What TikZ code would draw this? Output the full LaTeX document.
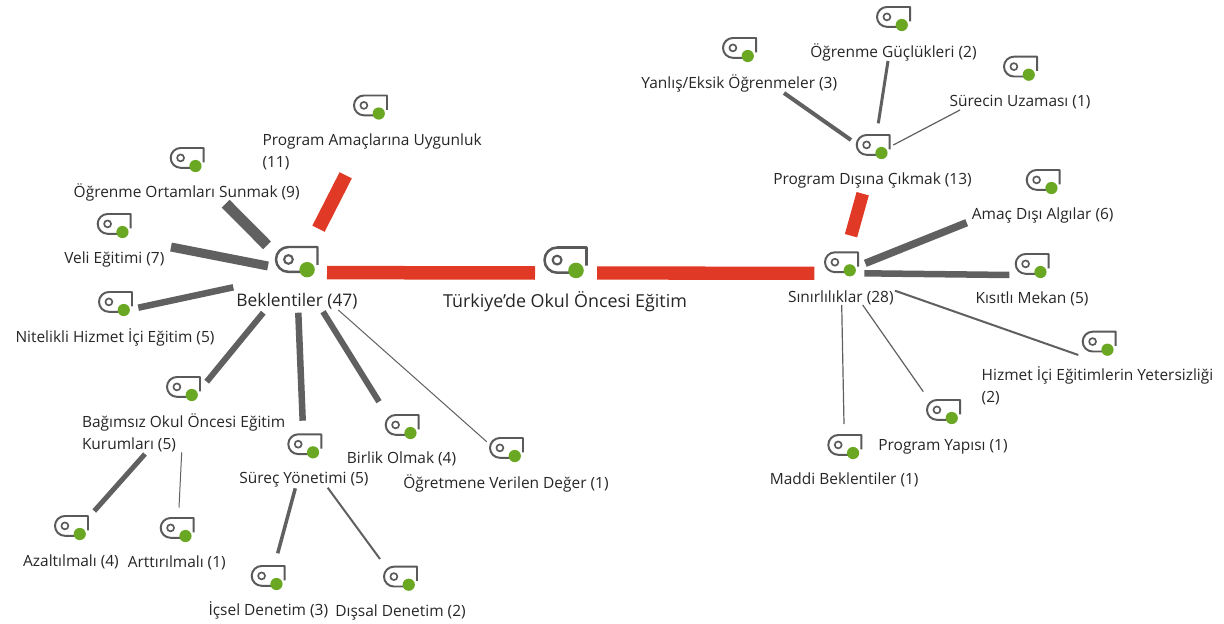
\documentclass[tikz,border=0pt]{standalone}
\usepackage{fontspec}
\setmainfont{Open Sans}
\definecolor{redline}{HTML}{E03A26}
\definecolor{grayline}{HTML}{606060}
\definecolor{icongray}{HTML}{5A5A5A}
\definecolor{dotgreen}{HTML}{6AA823}
\definecolor{txt}{HTML}{262626}
\tikzset{
  lab/.style={inner sep=0pt,outer sep=0pt,anchor=base,yshift=-0.9pt,text=txt,font=\fontsize{11.6}{16.5}\selectfont},
  lableft/.style={lab,anchor=base west,align=left},
  rootlab/.style={lab,font=\fontsize{13.4}{16.5}\selectfont},
  beklab/.style={lab,font=\fontsize{13}{16.5}\selectfont},
  iconbox/.style={inner sep=0pt,outer sep=0pt,minimum width=#1*0.75pt,minimum height=#1*0.45pt},
  icondot/.style={circle,fill=dotgreen,draw=none,inner sep=0pt,minimum size=#1*0.75pt},
  redc/.style={draw=redline,line width=#1*0.75pt},
  grayc/.style={draw=grayline,line width=#1*0.75pt},
}
% \icon{name}{left x}{top y}{width}
\newcommand{\icon}[4]{%
  \pgfmathsetmacro{\iw}{#4}\pgfmathsetmacro{\ih}{#4*0.6}%
  \pgfmathsetmacro{\icx}{#2+\iw/2}\pgfmathsetmacro{\icy}{#3+\ih/2}%
  \expandafter\xdef\csname px@#1\endcsname{\icx}%
  \expandafter\xdef\csname py@#1\endcsname{\icy}%
  \node[iconbox=#4] (#1) at (\icx,\icy) {};
  \draw[icongray,line width={#4*0.06*0.75pt},line join=round]
    (#2+0.72*\iw,#3+\ih) -- (#2+0.30*\iw,#3+\ih)
    arc[start angle=90,end angle=270,x radius=0.30*\iw,y radius=0.5*\ih]
    -- (#2+\iw,#3) -- (#2+\iw,#3+0.72*\ih);
  \draw[icongray,line width={#4*0.05*0.75pt}] (#2+0.30*\iw,#3+0.5*\ih) circle[radius=0.105*\iw];
  \node[icondot=#4*0.37] (#1-dot) at (#2+0.75*\iw,#3+0.91*\ih) {};
}
% \conn{style}{a}{b}{x1}{y1}{x2}{y2}
\newcommand{\conn}[7]{%
  \draw[#1] ([shift={({#4-\csname px@#2\endcsname},{#5-\csname py@#2\endcsname})}]#2.center)
    -- ([shift={({#6-\csname px@#3\endcsname},{#7-\csname py@#3\endcsname})}]#3.center);
}
\begin{document}
\begin{tikzpicture}[x=0.75pt,y=-0.75pt]
\useasboundingbox (0,0) rectangle (1224,624);
\fill[white] (0,0) rectangle (1224,624);
\icon{root}{544.5}{247.5}{42}
\icon{bek}{276}{247}{41.5}
\icon{sin}{825}{252.3}{33}
\icon{pam}{354}{95.5}{33}
\icon{oom}{170.7}{148}{33}
\icon{veli}{97.7}{214}{33}
\icon{nit}{99}{292}{33}
\icon{bag}{167}{377}{33}
\icon{sur}{288.3}{434.3}{33}
\icon{bir}{385.7}{415}{33}
\icon{ovd}{490}{438}{33}
\icon{aza}{55}{516}{33}
\icon{art}{160.7}{518}{33}
\icon{ics}{251.7}{566}{33}
\icon{dis}{384}{566.7}{33}
\icon{yan}{723}{38}{33}
\icon{ogg}{877}{7}{33}
\icon{suz}{1004}{56.7}{33}
\icon{pdc}{856.7}{135}{33}
\icon{amc}{1026.7}{170}{33}
\icon{kis}{1015.7}{254}{33}
\icon{hiz}{1082.7}{331.7}{33}
\icon{pya}{927}{400}{33}
\icon{mad}{828.3}{435}{33}

\conn{redc=13.5}{bek}{root}{327}{272.6}{535}{273}
\conn{redc=13.3}{root}{sin}{597}{273}{814.3}{273.3}
\conn{redc=13.7}{bek}{pam}{318.5}{228.7}{345.7}{175.3}
\conn{grayc=11}{bek}{oom}{267}{245.3}{225.7}{203.7}
\conn{grayc=9}{bek}{veli}{268}{266}{171}{247}
\conn{grayc=6.5}{bek}{nit}{233.3}{287.3}{138.3}{307.7}
\conn{grayc=6}{bek}{bag}{263.3}{312.7}{206.7}{381.7}
\conn{grayc=6.5}{bek}{sur}{298.3}{312.7}{302.7}{420.7}
\conn{grayc=6}{bek}{bir}{323}{311.7}{379}{401.7}
\conn{grayc=1}{bek}{ovd}{338.3}{310}{486.7}{441.7}
\conn{grayc=5}{bag}{aza}{145}{454}{94.3}{511}
\conn{grayc=1}{bag}{art}{181.7}{452.3}{179}{507.7}
\conn{grayc=3.5}{sur}{ics}{295.3}{488.3}{277.7}{553.3}
\conn{grayc=2}{sur}{dis}{327.7}{487.7}{380}{559}
\conn{redc=12.7}{sin}{pdc}{851}{235.7}{862.7}{193.7}
\conn{grayc=4}{pdc}{yan}{851}{140}{784}{93}
\conn{grayc=3}{pdc}{ogg}{878.3}{123.3}{888}{61}
\conn{grayc=1.2}{pdc}{suz}{893.3}{145}{960}{110}
\conn{grayc=7.5}{sin}{amc}{865.3}{263.3}{966.7}{222.7}
\conn{grayc=6.5}{sin}{kis}{864.3}{273.3}{1009.3}{275}
\conn{grayc=2}{sin}{hiz}{895}{290.7}{1078.3}{355}
\conn{grayc=1.2}{sin}{pya}{862.7}{305}{923.3}{391.7}
\conn{grayc=1.2}{sin}{mad}{841.7}{305}{844}{424}

\node[rootlab] (lroot) at (565,306) {Türkiye'de Okul Öncesi Eğitim};
\node[beklab] (lbek) at (297,305) {Beklentiler (47)};
\node[lab] (lsin) at (840.8,301) {Sınırlılıklar (28)};
\node[lableft] (lpam) at (262.5,166) {Program Amaçlarına Uygunluk\\(11)};
\node[lab] (loom) at (186.7,196.7) {Öğrenme Ortamları Sunmak (9)};
\node[lab] (lveli) at (114.3,262.7) {Veli Eğitimi (7)};
\node[lab] (lnit) at (115,341) {Nitelikli Hizmet İçi Eğitim (5)};
\node[lableft] (lbag) at (82,448.3) {Bağımsız Okul Öncesi Eğitim\\Kurumları (5)};
\node[lab] (lsur) at (304,482.7) {Süreç Yönetimi (5)};
\node[lab] (lbir) at (401.5,462.7) {Birlik Olmak (4)};
\node[lab] (lovd) at (506,487) {Öğretmene Verilen Değer (1)};
\node[lab] (laza) at (71,565) {Azaltılmalı (4)};
\node[lab] (lart) at (176.8,566.7) {Arttırılmalı (1)};
\node[lab] (lics) at (268.3,614.5) {İçsel Denetim (3)};
\node[lab] (ldis) at (400.5,615) {Dışsal Denetim (2)};
\node[lab] (lyan) at (739.3,87) {Yanlış/Eksik Öğrenmeler (3)};
\node[lab] (logg) at (893.5,56) {Öğrenme Güçlükleri (2)};
\node[lab] (lsuz) at (1020,105) {Sürecin Uzaması (1)};
\node[lab] (lpdc) at (872.5,183) {Program Dışına Çıkmak (13)};
\node[lab] (lamc) at (1042.7,218) {Amaç Dışı Algılar (6)};
\node[lab] (lkis) at (1032,302.7) {Kısıtlı Mekan (5)};
\node[lableft] (lhiz) at (981.7,401.7) {Hizmet İçi Eğitimlerin Yetersizliği\\(2)};
\node[lab] (lpya) at (943,449) {Program Yapısı (1)};
\node[lab] (lmad) at (844.2,483.3) {Maddi Beklentiler (1)};
\end{tikzpicture}
\end{document}
